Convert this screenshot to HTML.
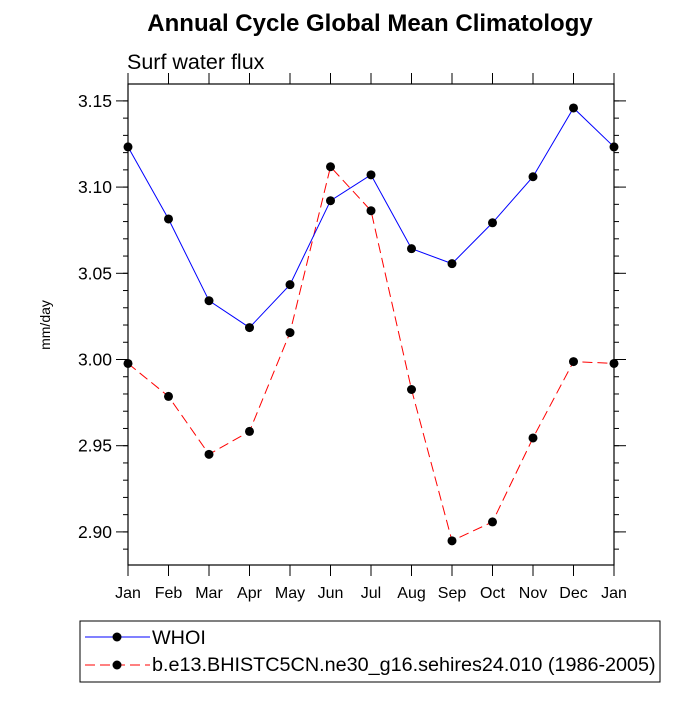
<!DOCTYPE html>
<html><head><meta charset="utf-8"><style>
body{margin:0;background:#fff}
text{font-family:"Liberation Sans",sans-serif}
</style></head><body>
<svg id="c" width="700" height="700" xmlns="http://www.w3.org/2000/svg">
<text x="370" y="31" text-anchor="middle" font-size="24" font-weight="bold">Annual Cycle Global Mean Climatology</text>
<text x="127" y="69" font-size="21.5">Surf water flux</text>
<text transform="translate(50,325) rotate(-90)" text-anchor="middle" font-size="14">mm/day</text>
<g id="axes"></g>
<g id="series"></g>
<rect x="80" y="621" width="580" height="61" fill="none" stroke="#000" stroke-width="1"/>
<g>
<line x1="85" y1="637" x2="150" y2="637" stroke="#00f" stroke-width="1"/>
<circle cx="117" cy="637" r="4.5" fill="#000"/>
<text x="152" y="644" font-size="19.8">WHOI</text></g>
<g>
<line x1="85" y1="665" x2="150" y2="665" stroke="#f00" stroke-width="1" stroke-dasharray="10,5"/>
<circle cx="117" cy="665" r="4.5" fill="#000"/>
<text x="152" y="671" font-size="19.8">b.e13.BHISTC5CN.ne30_g16.sehires24.010 (1986-2005)</text></g>
</svg>
<script>
const months=["Jan","Feb","Mar","Apr","May","Jun","Jul","Aug","Sep","Oct","Nov","Dec","Jan"];
const whoi=[3.1233,3.0815,3.0341,3.0185,3.0434,3.0921,3.1071,3.0643,3.0556,3.0793,3.1060,3.1459,3.1233];
const model=[2.9977,2.9786,2.9450,2.9583,3.0156,3.1118,3.0863,2.9826,2.8948,2.9058,2.9545,2.9988,2.9977];
const yTicks=[2.90,2.95,3.00,3.05,3.10,3.15];
const yTickLabels=["2.90","2.95","3.00","3.05","3.10","3.15"];
const NS="http://www.w3.org/2000/svg";
const L=128,R=614,T=84,B=565,yMin=2.8808,yMax=3.1598;
const xs=i=>L+(R-L)*i/(months.length-1);
const ys=v=>B-(v-yMin)/(yMax-yMin)*(B-T);
const ax=document.getElementById('axes'),se=document.getElementById('series');
function mk(t,a,p){const e=document.createElementNS(NS,t);for(const k in a)e.setAttribute(k,a[k]);p.appendChild(e);return e;}
const fr=mk('rect',{x:L,y:T,width:R-L,height:B-T,fill:'none',stroke:'#000','stroke-width':1.2},ax);


months.forEach((m,i)=>{const x=xs(i);
mk('line',{x1:x,y1:B,x2:x,y2:B+11,stroke:'#000'},ax);
mk('line',{x1:x,y1:T,x2:x,y2:T-11,stroke:'#000'},ax);
const t=mk('text',{x:x,y:B+33,'text-anchor':'middle','font-size':16},ax);t.textContent=m;

});
for(let v=2.89;v<=3.155;v+=0.01){const y=ys(v);
mk('line',{x1:L,y1:y,x2:L-5,y2:y,stroke:'#000'},ax);
mk('line',{x1:R,y1:y,x2:R+5,y2:y,stroke:'#000'},ax);}
yTicks.forEach((v,i)=>{const y=ys(v);
mk('line',{x1:L,y1:y,x2:L-12,y2:y,stroke:'#000'},ax);
mk('line',{x1:R,y1:y,x2:R+12,y2:y,stroke:'#000'},ax);
const t=mk('text',{x:L-16,y:y+6,'text-anchor':'end','font-size':17.5},ax);t.textContent=yTickLabels[i];

});
function draw(d,col,dash,name){
const pl=mk('polyline',{points:d.map((v,i)=>xs(i)+','+ys(v)).join(' '),fill:'none',stroke:col,'stroke-width':1,'stroke-dasharray':dash},se);


d.forEach((v,i)=>{const c=mk('circle',{cx:xs(i),cy:ys(v),r:4.5,fill:'#000'},se);

});}
draw(model,'#f00','10,5','model');
draw(whoi,'#00f','none','whoi');
</script>
</body></html>
